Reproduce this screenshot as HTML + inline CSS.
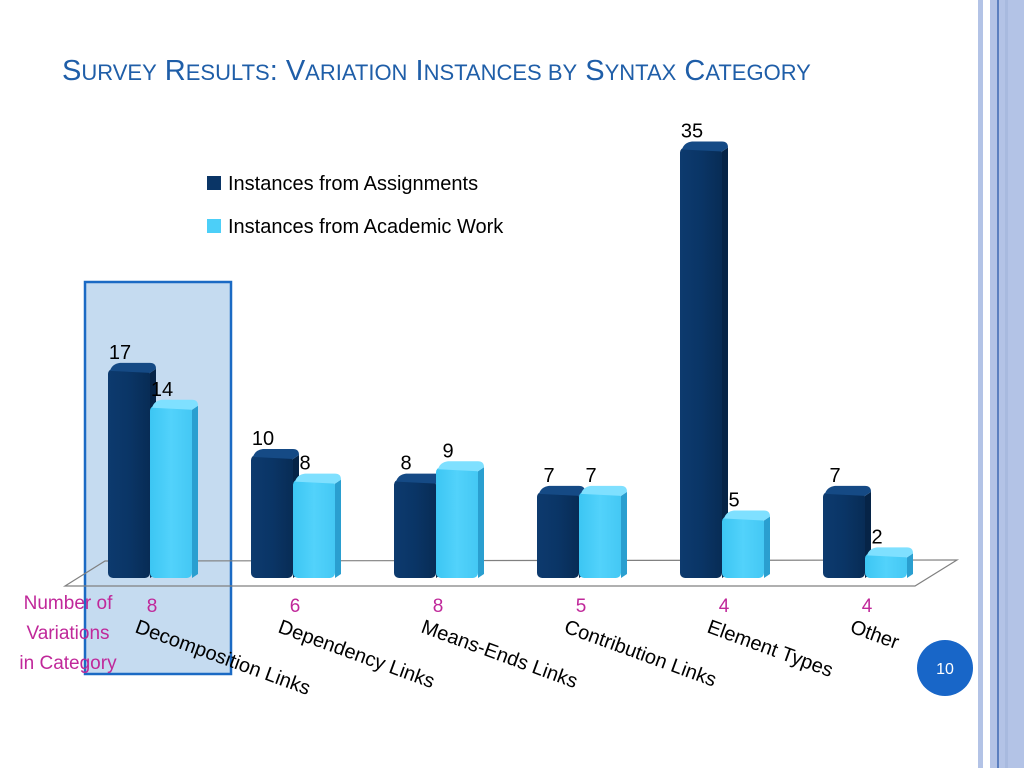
<!DOCTYPE html>
<html><head><meta charset="utf-8"><style>
body{margin:0;width:1024px;height:768px;overflow:hidden;background:#fff;font-family:"Liberation Sans",sans-serif}
</style></head><body>
<svg width="1024" height="768" viewBox="0 0 1024 768">
<defs>
<linearGradient id="gd" x1="0" x2="1"><stop offset="0" stop-color="#0d3a6e"/><stop offset="0.5" stop-color="#0a3566"/><stop offset="1" stop-color="#082c55"/></linearGradient>
<linearGradient id="gl" x1="0" x2="1"><stop offset="0" stop-color="#3cc6f3"/><stop offset="0.5" stop-color="#52d2fb"/><stop offset="1" stop-color="#44c8f4"/></linearGradient>
</defs>
<g>
<rect x="978" y="0" width="5" height="768" fill="#b3c3e6"/>
<rect x="990" y="0" width="34" height="768" fill="#b3c3e6"/>
<rect x="997" y="0" width="2" height="768" fill="#5b7fbf"/>
<rect x="1005" y="0" width="3" height="768" fill="#a8badf"/>
</g>
<text x="62" y="80" fill="#1f5ea8" font-size="29">S<tspan font-size="22">URVEY</tspan> R<tspan font-size="22">ESULTS</tspan>: V<tspan font-size="22">ARIATION</tspan> I<tspan font-size="22">NSTANCES BY</tspan> S<tspan font-size="22">YNTAX</tspan> C<tspan font-size="22">ATEGORY</tspan></text>
<rect x="85" y="282" width="146" height="392" fill="#c5dbf0" stroke="#1b6ac4" stroke-width="2.5"/>
<polygon points="105,561 957,560 915,586 65,586" fill="none" stroke="#808080" stroke-width="1.2"/>
<g id="bars"></g>
<g>
<rect x="207" y="176" width="14" height="14" fill="#0a3566"/>
<text x="228" y="190" font-size="20">Instances from Assignments</text>
<rect x="207" y="219" width="14" height="14" fill="#4ccff8"/>
<text x="228" y="233" font-size="20">Instances from Academic Work</text>
</g>
<text font-size="19" fill="#c0289a" text-anchor="middle"><tspan x="68" y="609">Number of</tspan><tspan x="68" y="639">Variations</tspan><tspan x="68" y="669">in Category</tspan></text>
<circle cx="945" cy="668" r="28" fill="#1866c8"/>
<text x="945" y="674" font-size="16" fill="#fff" text-anchor="middle">10</text>
</svg>
<script>
const categories=["Decomposition Links","Dependency Links","Means-Ends Links","Contribution Links","Element Types","Other"];
const assignments=[17,10,8,7,35,7];
const academic=[14,8,9,7,5,2];
const variations=[8,6,8,5,4,4];
const ns="http://www.w3.org/2000/svg";
const g=document.getElementById('bars');
const base=578, scale=12.3, x0=108, step=143, bw=42;
function y(v){return base-v*scale;}
function mk(t,a){const e=document.createElementNS(ns,t);for(const k in a)e.setAttribute(k,a[k]);g.appendChild(e);return e;}
function bar(x,v,fill,side,top,name){
  const yt=y(v);
  const s=mk('path',{d:`M${x+bw},${yt+4} L${x+bw+6},${yt} L${x+bw+6},${base-4} L${x+bw},${base} Z`,fill:side});
  
  
  const r=mk('rect',{x:x,y:yt,width:bw,height:base-yt,rx:5,fill:fill});
  
  
  const c=mk('path',{d:`M${x+2},${yt+2} Q${x+4},${yt-5} ${x+12},${yt-6} L${x+bw},${yt-6} Q${x+bw+6},${yt-6} ${x+bw+6},${yt} L${x+bw},${yt+4} Z`,fill:top});
  
  
}
function txt(x,yy,s,sz,fill,anchor,rot,name){
  const t=mk('text',{x:x,y:yy,'font-size':sz,fill:fill,'text-anchor':anchor});
  if(rot)t.setAttribute('transform',`rotate(${rot} ${x} ${yy})`);
  t.textContent=s;
  
  
}
categories.forEach((c,i)=>{
  const x=x0+i*step;
  bar(x,assignments[i],'url(#gd)','#062447','#154a85','bar-assignments-'+i);
  bar(x+bw,academic[i],'url(#gl)','#2a9fd0','#7fe0ff','bar-academic-'+i);
  txt(x+12,y(assignments[i])-10,String(assignments[i]),20,'#000','middle',0,'value-assignments-'+i);
  txt(x+bw+12,y(academic[i])-10,String(academic[i]),20,'#000','middle',0,'value-academic-'+i);
  txt(x+44,612,String(variations[i]),19,'#c0289a','middle',0,'variations-'+i);
  txt(x+26,632,c,20,'#000','start',20,'category-label-'+i);
});
</script>
</body></html>
